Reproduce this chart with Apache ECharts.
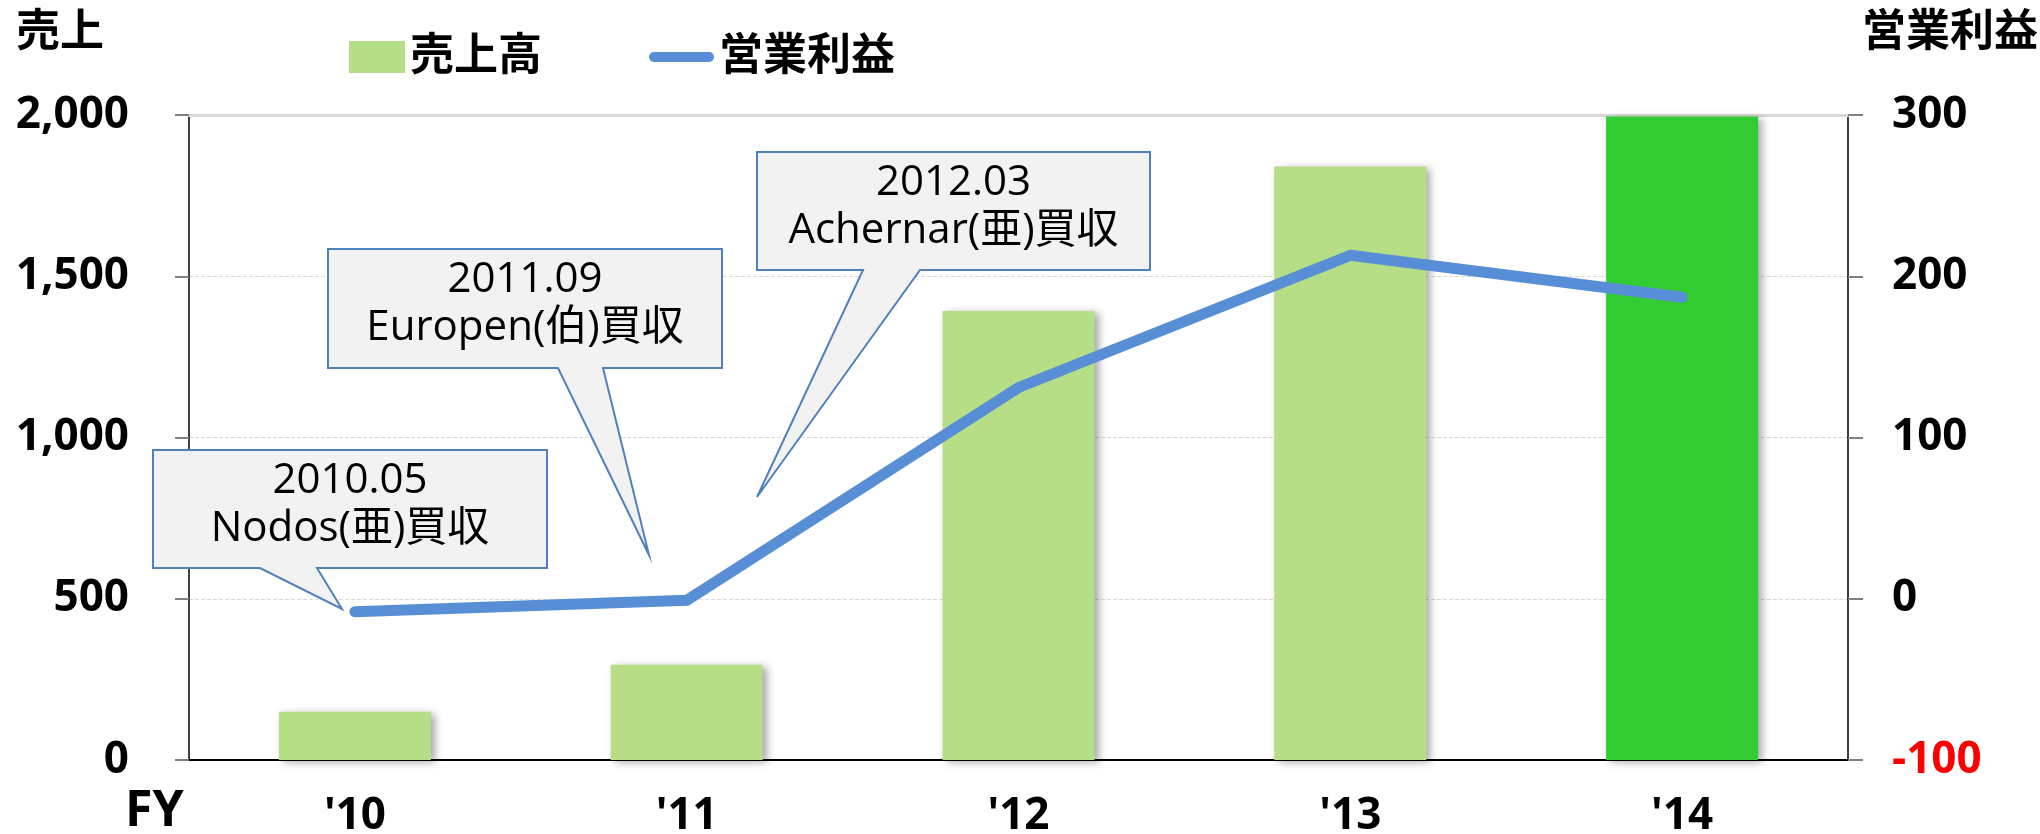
<!DOCTYPE html>
<html>
<head>
<meta charset="utf-8">
<script src="https://cdn.jsdelivr.net/npm/echarts@6/dist/echarts.min.js"></script>
<style>
  html, body { margin: 0; padding: 0; background: #fff; }
  #main { width: 2040px; height: 834px; }
</style>
</head>
<body>
<div id="main"></div>
<script>
// 年度
var years = ["'10", "'11", "'12", "'13", "'14"];
// 売上高（左軸）
var sales = [150, 295, 1392, 1840, 1995];
// 営業利益（右軸）
var profit = [-8, -1, 131, 213, 187];
// 吹き出しの文言
var notes = ['2010.05\nNodos(亜)買収', '2011.09\nEuropen(伯)買収', '2012.03\nAchernar(亜)買収'];

var FONT = "'Open Sans', 'Noto Sans CJK JP', sans-serif";
var LIGHT = '#B6DE86';
var DARK = '#33CC33';
var BLUE = '#588ED6';

// 吹き出しの形 (box + pointer)
function callout(box, base, tip, text) {
  var l = box[0], t = box[1], r = box[2], b = box[3];
  return [
    {
      type: 'polygon',
      z: 50,
      shape: { points: [[l, t], [r, t], [r, b], [base[1], b], tip, [base[0], b], [l, b]] },
      style: { fill: '#F2F2F2', stroke: '#4F81BD', lineWidth: 2 }
    },
    {
      type: 'text',
      z: 51,
      x: (l + r) / 2,
      y: (t + b) / 2 - 4,
      style: {
        text: text, fill: '#000', fontSize: 42, fontFamily: FONT,
        align: 'center', verticalAlign: 'middle', lineHeight: 48
      }
    }
  ];
}

var myChart = echarts.init(document.getElementById('main'));

myChart.setOption({
  animation: false,
  grid: { left: 189, right: 192, top: 115, bottom: 74, outerBoundsMode: 'none', containLabel: false },
  legend: [
    {
      left: 344, top: 30,
      itemWidth: 56, itemHeight: 32,
      data: [{ name: '売上高', icon: 'rect', itemStyle: { color: LIGHT } }],
      textStyle: { fontSize: 44, fontWeight: 'bold', color: '#000', fontFamily: FONT }
    },
    {
      left: 644, top: 30,
      itemWidth: 65, itemHeight: 11,
      data: [{ name: '営業利益', icon: 'path://M5,0 H60 A5,5 0 0 1 60,10 H5 A5,5 0 0 1 5,0 Z' }],
      textStyle: { fontSize: 44, fontWeight: 'bold', color: '#000', fontFamily: FONT }
    }
  ],
  xAxis: [
    {
      type: 'category',
      data: years,
      axisLine: { onZero: false, lineStyle: { color: '#000', width: 2 } },
      axisTick: { show: false },
      axisLabel: { fontSize: 44, fontWeight: 'bold', color: '#000', fontFamily: FONT, margin: 34 }
    },
    {
      type: 'category',
      position: 'top',
      data: years,
      axisLine: { onZero: false, lineStyle: { color: '#D9D9D9', width: 3 } },
      axisTick: { show: false },
      axisLabel: { show: false }
    }
  ],
  yAxis: [
    {
      type: 'value',
      min: 0, max: 2000, interval: 500,
      axisLine: { show: true, lineStyle: { color: '#000', width: 1.5 } },
      axisTick: { show: true, length: 14, lineStyle: { color: '#808080', width: 2 } },
      splitLine: { lineStyle: { color: '#D9D9D9', type: 'dashed', width: 1 } },
      axisLabel: {
        fontSize: 44, fontWeight: 'bold', color: '#000', fontFamily: FONT, margin: 60,
        formatter: function (v) { return v.toLocaleString('en-US'); }
      }
    },
    {
      type: 'value',
      min: -100, max: 300, interval: 100,
      axisLine: { show: true, lineStyle: { color: '#000', width: 1.5 } },
      axisTick: { show: true, length: 15, lineStyle: { color: '#808080', width: 2 } },
      splitLine: { show: false },
      axisLabel: {
        fontSize: 44, fontWeight: 'bold', fontFamily: FONT, margin: 44,
        color: function (v) { return v < 0 ? '#FF0000' : '#000'; }
      }
    }
  ],
  series: [
    {
      name: '売上高',
      type: 'bar',
      data: sales,
      barWidth: 152,
      itemStyle: {
        color: function (p) { return p.dataIndex === sales.length - 1 ? DARK : LIGHT; },
        shadowColor: 'rgba(0,0,0,0.35)',
        shadowBlur: 8,
        shadowOffsetX: 4,
        shadowOffsetY: 2
      }
    },
    {
      name: '営業利益',
      type: 'line',
      yAxisIndex: 1,
      data: profit,
      showSymbol: false,
      symbol: 'none',
      z: 5,
      itemStyle: { color: BLUE },
      lineStyle: { color: BLUE, width: 11, cap: 'round', join: 'round' }
    }
  ],
  graphic: [
    {
      type: 'text', x: 16, y: 33,
      style: { text: '売上', fontSize: 44, fontWeight: 'bold', fill: '#000', fontFamily: FONT, verticalAlign: 'middle' }
    },
    {
      type: 'text', x: 2038, y: 33,
      style: { text: '営業利益', fontSize: 44, fontWeight: 'bold', fill: '#000', fontFamily: FONT, align: 'right', verticalAlign: 'middle' }
    },
    {
      type: 'text', x: 125, y: 812,
      style: { text: 'FY', fontSize: 50, fontWeight: 'bold', fill: '#000', fontFamily: FONT, verticalAlign: 'middle' }
    }
  ]
    .concat(callout([153, 450, 547, 568], [260, 317], [342, 609], notes[0]))
    .concat(callout([328, 249, 722, 368], [558, 603], [649, 555], notes[1]))
    .concat(callout([757, 152, 1150, 270], [863, 920], [757, 497], notes[2]))
});
</script>
</body>
</html>
